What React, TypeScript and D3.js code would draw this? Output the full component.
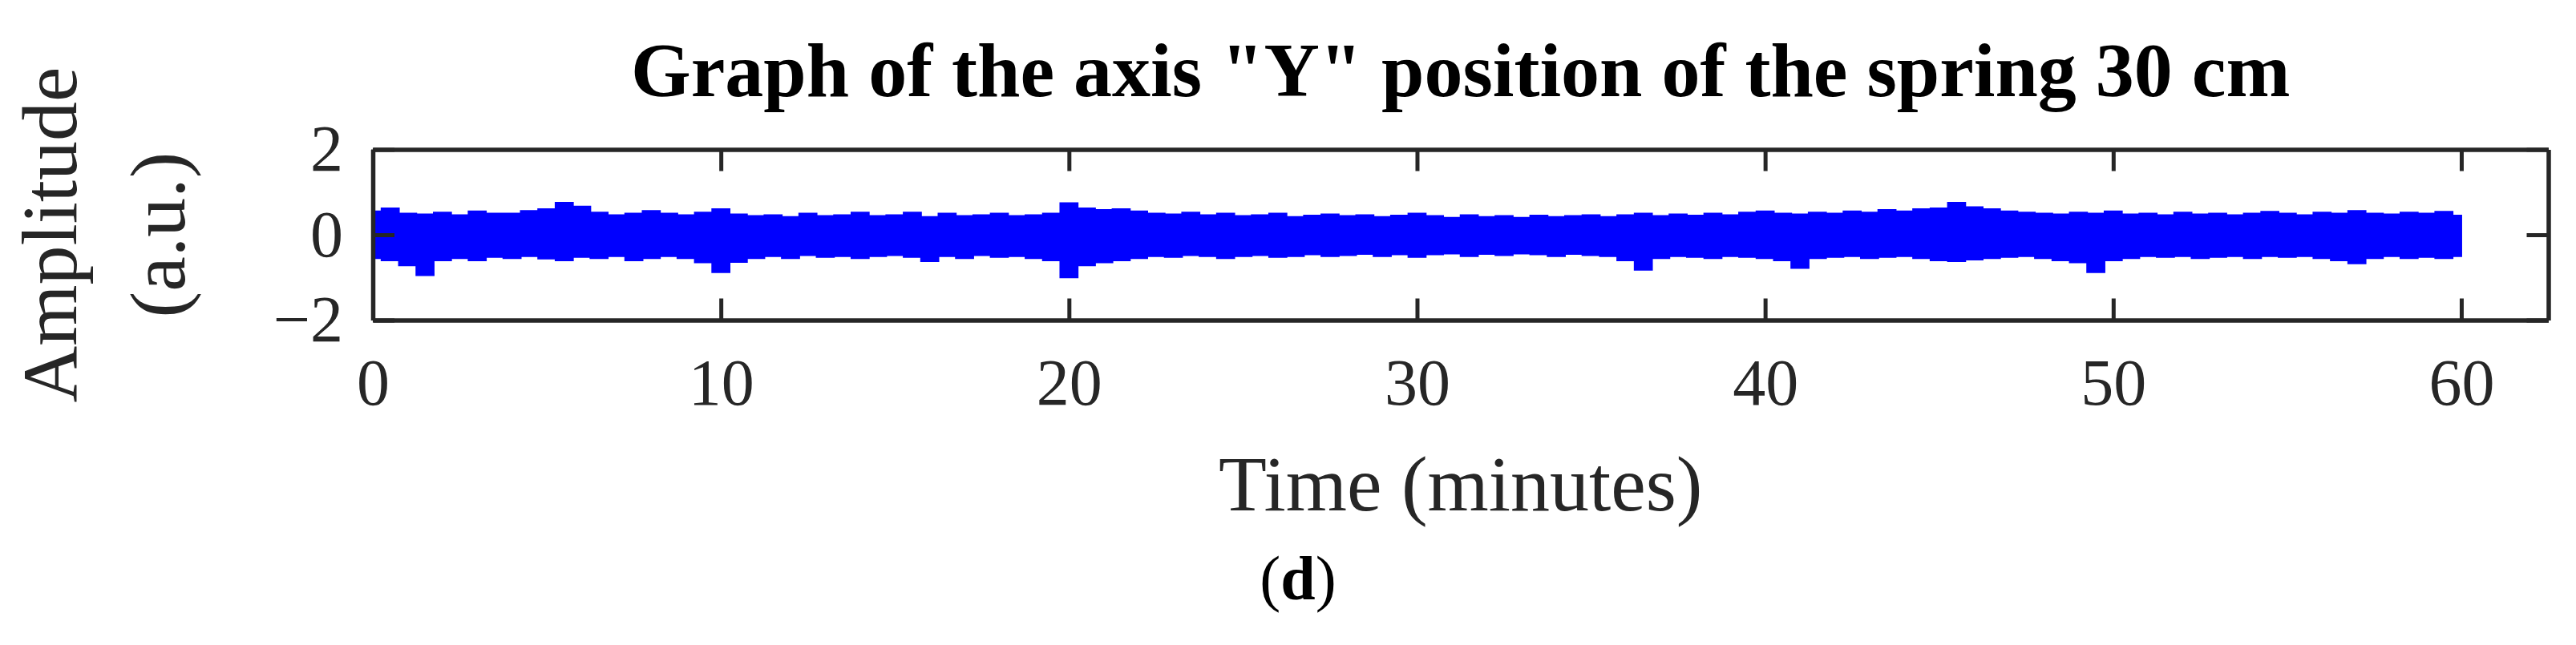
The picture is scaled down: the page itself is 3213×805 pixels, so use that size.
import React, { useEffect, useRef } from "react";
import * as d3 from "d3";

// sample times (minutes), every half minute
const times = [
  0, 0.5, 1, 1.5, 2, 2.5, 3, 3.5, 4, 4.5, 5,
  5.5, 6, 6.5, 7, 7.5, 8, 8.5, 9, 9.5, 10,
  10.5, 11, 11.5, 12, 12.5, 13, 13.5, 14, 14.5, 15,
  15.5, 16, 16.5, 17, 17.5, 18, 18.5, 19, 19.5, 20,
  20.5, 21, 21.5, 22, 22.5, 23, 23.5, 24, 24.5, 25,
  25.5, 26, 26.5, 27, 27.5, 28, 28.5, 29, 29.5, 30,
  30.5, 31, 31.5, 32, 32.5, 33, 33.5, 34, 34.5, 35,
  35.5, 36, 36.5, 37, 37.5, 38, 38.5, 39, 39.5, 40,
  40.5, 41, 41.5, 42, 42.5, 43, 43.5, 44, 44.5, 45,
  45.5, 46, 46.5, 47, 47.5, 48, 48.5, 49, 49.5, 50,
  50.5, 51, 51.5, 52, 52.5, 53, 53.5, 54, 54.5, 55,
  55.5, 56, 56.5, 57, 57.5, 58, 58.5, 59, 59.5, 60,
];

// upper envelope of the Y position signal (a.u.)
const upper = [
  0.55, 0.62, 0.5, 0.48, 0.52, 0.46, 0.55, 0.5, 0.5, 0.56, 0.6,
  0.75, 0.66, 0.52, 0.46, 0.5, 0.56, 0.5, 0.46, 0.52, 0.6,
  0.48, 0.44, 0.46, 0.42, 0.5, 0.44, 0.46, 0.52, 0.44, 0.46,
  0.52, 0.42, 0.5, 0.44, 0.46, 0.5, 0.44, 0.46, 0.5, 0.74,
  0.62, 0.58, 0.6, 0.55, 0.5, 0.48, 0.52, 0.46, 0.5, 0.44,
  0.46, 0.5, 0.42, 0.45, 0.48, 0.44, 0.46, 0.42, 0.45, 0.5,
  0.44, 0.4, 0.46, 0.42, 0.44, 0.4, 0.45, 0.42, 0.44, 0.46,
  0.42, 0.46, 0.5, 0.44, 0.48, 0.45, 0.5, 0.46, 0.52, 0.55,
  0.5, 0.48, 0.52, 0.5, 0.55, 0.52, 0.58, 0.55, 0.6, 0.62,
  0.75, 0.65, 0.6, 0.55, 0.52, 0.5, 0.48, 0.52, 0.5, 0.55,
  0.48, 0.5, 0.46, 0.52, 0.48, 0.5, 0.46, 0.5, 0.54, 0.5,
  0.46, 0.52, 0.5, 0.56, 0.5, 0.48, 0.52, 0.5, 0.54, 0.45,
];

// lower envelope
const lower = [
  -0.55, -0.6, -0.72, -0.95, -0.6, -0.55, -0.6, -0.52, -0.55, -0.5, -0.56,
  -0.6, -0.52, -0.55, -0.5, -0.6, -0.55, -0.5, -0.55, -0.65, -0.88,
  -0.64, -0.55, -0.5, -0.55, -0.48, -0.52, -0.5, -0.55, -0.5, -0.48,
  -0.52, -0.62, -0.5, -0.55, -0.48, -0.52, -0.5, -0.55, -0.6, -1.0,
  -0.72, -0.65, -0.6, -0.55, -0.5, -0.52, -0.48, -0.5, -0.55, -0.5,
  -0.48, -0.52, -0.5, -0.46, -0.5, -0.48, -0.45, -0.5, -0.46, -0.52,
  -0.46, -0.44, -0.5, -0.45, -0.48, -0.44, -0.46, -0.5, -0.45, -0.48,
  -0.5, -0.6, -0.82, -0.55, -0.5, -0.52, -0.55, -0.5, -0.52, -0.55,
  -0.6, -0.78, -0.55, -0.52, -0.5, -0.55, -0.52, -0.5, -0.55, -0.6,
  -0.62, -0.58, -0.55, -0.52, -0.5, -0.55, -0.6, -0.65, -0.88, -0.6,
  -0.55, -0.5, -0.52, -0.5, -0.55, -0.52, -0.5, -0.55, -0.5, -0.52,
  -0.5, -0.55, -0.6, -0.67, -0.55, -0.5, -0.55, -0.52, -0.55, -0.5,
];

const xTicks = [0, 10, 20, 30, 40, 50, 60];
const yTicks = [-2, 0, 2];

const W = 3213;
const H = 805;
const FONT = "'Liberation Serif', 'Times New Roman', serif";
const AXIS = "#262626";

const App = () => {
  const ref = useRef<SVGSVGElement>(null);

  useEffect(() => {
    const svg = d3.select(ref.current);
    svg.selectAll("*").remove();

    const left = 465, right = 3178.5, top = 186.5, bottom = 399.5;

    const x = d3.scaleLinear().domain([0, 62.5]).range([left, right]);
    const y = d3.scaleLinear().domain([-2, 2]).range([bottom, top]);

    const data = times.map((t, i) => ({ t, hi: upper[i], lo: lower[i] }));

    // signal band
    const area = d3.area<{ t: number; hi: number; lo: number }>()
      .x(d => x(d.t))
      .y0(d => y(d.lo))
      .y1(d => y(d.hi))
      .curve(d3.curveStep);

    svg.append("path")
      .datum(data)
      .attr("d", area)
      .attr("fill", "#0000ff")
      .attr("stroke", "#0000ff")
      .attr("stroke-width", 2);

    // axes (box on, ticks inward)
    const styleAxis = (g: any) => {
      g.select(".domain").attr("stroke", AXIS).attr("stroke-width", 5.5).attr("fill", "none");
      g.selectAll(".tick line").attr("stroke", AXIS).attr("stroke-width", 5);
      g.selectAll(".tick text")
        .attr("fill", AXIS)
        .attr("font-family", FONT)
        .attr("font-size", 82);
    };

    svg.append("g")
      .attr("transform", `translate(0,${bottom})`)
      .call(d3.axisBottom(x).tickValues(xTicks).tickSize(-27).tickSizeOuter(0).tickPadding(47))
      .call(styleAxis);

    svg.append("g")
      .attr("transform", `translate(0,${top})`)
      .call(d3.axisTop(x).tickValues(xTicks).tickSize(-27).tickSizeOuter(0).tickFormat(() => ""))
      .call(styleAxis);

    svg.append("g")
      .attr("transform", `translate(${left},0)`)
      .call(d3.axisLeft(y).tickValues(yTicks).tickFormat(d3.format("d")).tickSize(-27).tickSizeOuter(0).tickPadding(37))
      .call(styleAxis);

    svg.append("g")
      .attr("transform", `translate(${right},0)`)
      .call(d3.axisRight(y).tickValues(yTicks).tickSize(-27).tickSizeOuter(0).tickFormat(() => ""))
      .call(styleAxis);

    // title
    svg.append("text")
      .attr("x", (left + right) / 2)
      .attr("y", 120)
      .attr("text-anchor", "middle")
      .attr("font-family", FONT)
      .attr("font-weight", "bold")
      .attr("font-size", 96)
      .attr("fill", "#000")
      .text('Graph of the axis "Y" position of the spring 30 cm');

    // x label
    svg.append("text")
      .attr("x", (left + right) / 2)
      .attr("y", 637)
      .attr("text-anchor", "middle")
      .attr("font-family", FONT)
      .attr("font-size", 98)
      .attr("fill", AXIS)
      .text("Time (minutes)");

    // y label, two lines
    const yl = svg.append("g").attr("fill", AXIS)
      .attr("font-family", FONT)
      .attr("font-size", 98)
      .attr("text-anchor", "middle");
    yl.append("text")
      .attr("transform", `translate(95,${(top + bottom) / 2}) rotate(-90)`)
      .text("Amplitude");
    yl.append("text")
      .attr("transform", `translate(230,${(top + bottom) / 2}) rotate(-90)`)
      .text("(a.u.)");

    // panel letter
    const cap = svg.append("text")
      .attr("x", 1619)
      .attr("y", 748)
      .attr("text-anchor", "middle")
      .attr("font-family", FONT)
      .attr("font-size", 78)
      .attr("fill", "#000");
    cap.append("tspan").text("(");
    cap.append("tspan").attr("font-weight", "bold").text("d");
    cap.append("tspan").text(")");
  }, []);

  return (
    <svg
      ref={ref}
      width={W}
      height={H}
      style={{ position: "absolute", left: 0, top: 0, background: "#fff" }}
    />
  );
};

export default App;
